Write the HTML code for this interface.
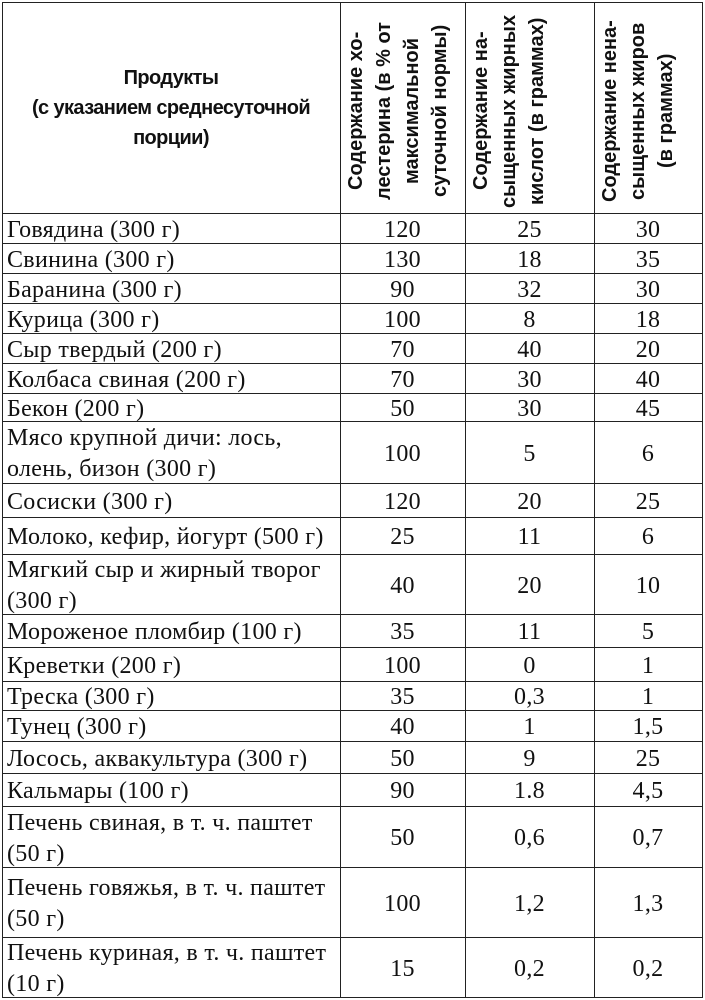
<!DOCTYPE html>
<html><head><meta charset="utf-8"><style>
body{margin:0;background:#fff;width:705px;height:999px;overflow:hidden;position:relative}
.h{position:absolute;left:2px;width:701px;height:0;border-top:1.5px solid #222}
.vl{position:absolute;top:2px;height:996px;width:0;border-left:1.5px solid #222}
.c{position:absolute;display:flex;align-items:center;font-family:"Liberation Serif",serif;font-size:24px;color:#111;line-height:31px;letter-spacing:0.3px;padding-top:2px;box-sizing:border-box}
.p{left:7px;width:340px;white-space:nowrap}
.n{justify-content:center}
.hd{position:absolute;font-family:"Liberation Sans",sans-serif;font-weight:bold;font-size:20px;color:#111;letter-spacing:-0.6px}
.v{position:absolute;writing-mode:vertical-rl;transform:rotate(180deg);text-align:center;line-height:28px;font-family:"Liberation Sans",sans-serif;font-weight:bold;font-size:20px;color:#111;letter-spacing:0px;display:flex;justify-content:center}
</style></head><body>
<div class="h" style="top:2px"></div><div class="h" style="top:213px"></div><div class="h" style="top:243px"></div><div class="h" style="top:273px"></div><div class="h" style="top:303px"></div><div class="h" style="top:333px"></div><div class="h" style="top:363px"></div><div class="h" style="top:393px"></div><div class="h" style="top:421px"></div><div class="h" style="top:483px"></div><div class="h" style="top:517px"></div><div class="h" style="top:554px"></div><div class="h" style="top:614px"></div><div class="h" style="top:647px"></div><div class="h" style="top:681px"></div><div class="h" style="top:710px"></div><div class="h" style="top:741px"></div><div class="h" style="top:773px"></div><div class="h" style="top:806px"></div><div class="h" style="top:867px"></div><div class="h" style="top:937px"></div><div class="h" style="top:997px"></div>
<div class="vl" style="left:2px"></div><div class="vl" style="left:340px"></div><div class="vl" style="left:465px"></div><div class="vl" style="left:594px"></div><div class="vl" style="left:702px"></div>

<div class="hd" style="left:2px;width:338px;top:63px;text-align:center;line-height:30px">Продукты<br>(с указанием среднесуточной<br>порции)</div>
<div class="v" style="left:342px;width:122px;top:14px;height:194px">Содержание хо-<br>лестерина (в % от<br>максимальной<br>суточной нормы)</div>
<div class="v" style="left:467px;width:126px;top:14px;height:194px">Содержание на-<br>сыщенных жирных<br>кислот (в граммах)</div>
<div class="v" style="left:596px;width:106px;top:14px;height:194px">Содержание нена-<br>сыщенных жиров<br>(в граммах)</div>

<div id="rows"></div>
<script>
var lines=[213,243,273,303,333,363,393,421,483,517,554,614,647,681,710,741,773,806,867,937,997];
var data=[["Говядина (300 г)","120","25","30"],["Свинина (300 г)","130","18","35"],["Баранина (300 г)","90","32","30"],["Курица (300 г)","100","8","18"],["Сыр твердый (200 г)","70","40","20"],["Колбаса свиная (200 г)","70","30","40"],["Бекон (200 г)","50","30","45"],["Мясо крупной дичи: лось,<br>олень, бизон (300 г)","100","5","6"],["Сосиски (300 г)","120","20","25"],["Молоко, кефир, йогурт (500 г)","25","11","6"],["Мягкий сыр и жирный творог<br>(300 г)","40","20","10"],["Мороженое пломбир (100 г)","35","11","5"],["Креветки (200 г)","100","0","1"],["Треска (300 г)","35","0,3","1"],["Тунец (300 г)","40","1","1,5"],["Лосось, аквакультура (300 г)","50","9","25"],["Кальмары (100 г)","90","1.8","4,5"],["Печень свиная, в т. ч. паштет<br>(50 г)","50","0,6","0,7"],["Печень говяжья, в т. ч. паштет<br>(50 г)","100","1,2","1,3"],["Печень куриная, в т. ч. паштет<br>(10 г)","15","0,2","0,2"]];
var cols=[[340,465],[465,594],[594,702]],h="";
for(var i=0;i<data.length;i++){var t=lines[i]+1,hh=lines[i+1]-lines[i];
h+='<div class="c p" style="top:'+t+'px;height:'+hh+'px">'+data[i][0]+'</div>';
for(var j=0;j<3;j++)h+='<div class="c n" style="left:'+cols[j][0]+'px;width:'+(cols[j][1]-cols[j][0])+'px;top:'+t+'px;height:'+hh+'px">'+data[i][j+1]+'</div>';}
document.getElementById("rows").innerHTML=h;
</script>
</body></html>
